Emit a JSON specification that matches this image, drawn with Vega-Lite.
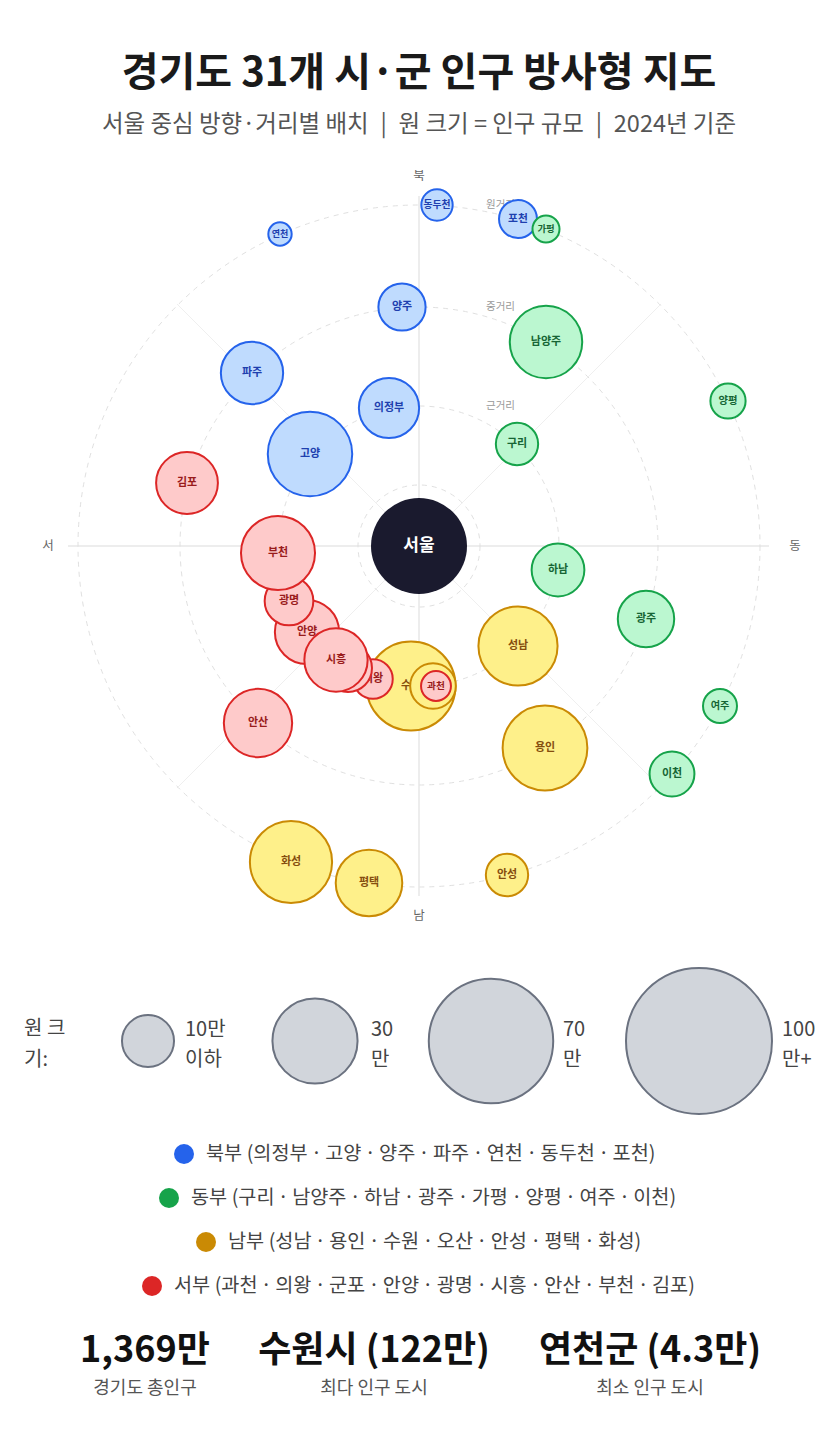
{
  "$schema": "https://vega.github.io/schema/vega-lite/v6.json",
  "background": "white",
  "padding": {"top": 53, "left": 0, "right": 0, "bottom": 0},
  "spacing": 0,
  "bounds": "flush",
  "config": {"view": {"stroke": null}, "font": "Noto Sans CJK KR", "text": {"font": "Noto Sans CJK KR"}},
  "title": {
    "text": "경기도 31개 시·군 인구 방사형 지도",
    "subtitle": "서울 중심 방향·거리별 배치\u2002|\u2002원 크기 = 인구 규모\u2002|\u20022024년 기준",
    "anchor": "middle", "font": "Noto Sans CJK KR", "fontSize": 40, "fontWeight": "bold", "color": "#1a1a1a",
    "subtitleFont": "Noto Sans CJK KR", "subtitleFontSize": 23.5, "subtitleColor": "#555555",
    "subtitlePadding": 19, "offset": 15
  },
  "resolve": {"scale": {"x": "independent", "y": "independent", "size": "independent", "color": "independent", "fill": "independent", "stroke": "independent"}},
  "datasets": {
    "cities": [
      {"name": "의정부", "region": "북부", "pop": 46, "x": -30, "y": 138, "z": 1},
      {"name": "고양", "region": "북부", "pop": 107, "x": -109, "y": 92, "z": 1},
      {"name": "양주", "region": "북부", "pop": 25, "x": -17, "y": 239, "z": 1},
      {"name": "파주", "region": "북부", "pop": 50, "x": -167, "y": 173, "z": 1},
      {"name": "연천", "region": "북부", "pop": 4.3, "x": -139, "y": 312, "z": 1},
      {"name": "동두천", "region": "북부", "pop": 9, "x": 18, "y": 341, "z": 1},
      {"name": "포천", "region": "북부", "pop": 14.5, "x": 99, "y": 327, "z": 1},
      {"name": "구리", "region": "동부", "pop": 19, "x": 98, "y": 102, "z": 1},
      {"name": "남양주", "region": "동부", "pop": 73, "x": 127, "y": 204, "z": 1},
      {"name": "하남", "region": "동부", "pop": 33, "x": 139, "y": -24, "z": 1},
      {"name": "광주", "region": "동부", "pop": 39, "x": 227, "y": -73, "z": 1},
      {"name": "가평", "region": "동부", "pop": 6.2, "x": 127, "y": 317, "z": 1},
      {"name": "양평", "region": "동부", "pop": 12, "x": 309, "y": 145, "z": 1},
      {"name": "여주", "region": "동부", "pop": 11, "x": 301, "y": -160, "z": 1},
      {"name": "이천", "region": "동부", "pop": 22, "x": 253, "y": -228, "z": 1},
      {"name": "성남", "region": "남부", "pop": 91, "x": 99, "y": -100, "z": 1},
      {"name": "용인", "region": "남부", "pop": 108, "x": 126, "y": -202, "z": 1},
      {"name": "수원", "region": "남부", "pop": 122, "x": -8, "y": -140, "z": 1},
      {"name": "오산", "region": "남부", "pop": 23, "x": 14, "y": -140, "z": 2},
      {"name": "안성", "region": "남부", "pop": 19, "x": 88, "y": -329, "z": 1},
      {"name": "평택", "region": "남부", "pop": 59, "x": -50, "y": -337, "z": 1},
      {"name": "화성", "region": "남부", "pop": 100, "x": -128, "y": -316, "z": 1},
      {"name": "과천", "region": "서부", "pop": 8, "x": 17, "y": -140, "z": 3},
      {"name": "의왕", "region": "서부", "pop": 16, "x": -46, "y": -133, "z": 2},
      {"name": "군포", "region": "서부", "pop": 26, "x": -71, "y": -122, "z": 3},
      {"name": "안양", "region": "서부", "pop": 54, "x": -112, "y": -86, "z": 2},
      {"name": "광명", "region": "서부", "pop": 27, "x": -130, "y": -55, "z": 3},
      {"name": "시흥", "region": "서부", "pop": 52, "x": -83, "y": -114, "z": 4},
      {"name": "안산", "region": "서부", "pop": 63, "x": -161, "y": -177, "z": 1},
      {"name": "부천", "region": "서부", "pop": 77, "x": -141, "y": -7, "z": 4},
      {"name": "김포", "region": "서부", "pop": 49, "x": -232, "y": 63, "z": 1}
    ],
    "ringdata": [
      {"dist": 61, "label": ""},
      {"dist": 140, "label": "근거리"},
      {"dist": 239, "label": "중거리"},
      {"dist": 341, "label": "원거리"}
    ],
    "spokes": [
      {"x": -351, "y": 0, "x2": 350, "y2": 0},
      {"x": 0, "y": 350, "x2": 0, "y2": -350},
      {"x": -242, "y": 242, "x2": 242, "y2": -242},
      {"x": 242, "y": 242, "x2": -242, "y2": -242}
    ],
    "dirs": [
      {"d": "북", "x": 0, "y": 370},
      {"d": "남", "x": 0, "y": -370},
      {"d": "서", "x": -371, "y": 0},
      {"d": "동", "x": 376, "y": 0}
    ],
    "seoul": [{"name": "서울", "x": 0, "y": 0}],
    "sizes": [
      {"v": 10, "label": "10만\n이하"},
      {"v": 30, "label": "30\n만"},
      {"v": 70, "label": "70\n만"},
      {"v": 100, "label": "100\n만+"}
    ],
    "regions": [
      {"i": 1, "region": "북부", "label": "북부 (의정부\u2006·\u2006고양\u2006·\u2006양주\u2006·\u2006파주\u2006·\u2006연천\u2006·\u2006동두천\u2006·\u2006포천)"},
      {"i": 2, "region": "동부", "label": "동부 (구리\u2006·\u2006남양주\u2006·\u2006하남\u2006·\u2006광주\u2006·\u2006가평\u2006·\u2006양평\u2006·\u2006여주\u2006·\u2006이천)"},
      {"i": 3, "region": "남부", "label": "남부 (성남\u2006·\u2006용인\u2006·\u2006수원\u2006·\u2006오산\u2006·\u2006안성\u2006·\u2006평택\u2006·\u2006화성)"},
      {"i": 4, "region": "서부", "label": "서부 (과천\u2006·\u2006의왕\u2006·\u2006군포\u2006·\u2006안양\u2006·\u2006광명\u2006·\u2006시흥\u2006·\u2006안산\u2006·\u2006부천\u2006·\u2006김포)"}
    ],
    "stats": [
      {"i": 1, "value": "1,369만", "label": "경기도 총인구"},
      {"i": 2, "value": "수원시 (122만)", "label": "최다 인구 도시"},
      {"i": 3, "value": "연천군 (4.3만)", "label": "최소 인구 도시"}
    ]
  },
  "vconcat": [
    {
      "width": 838,
      "height": 810,
      "resolve": {"scale": {"size": "independent"}},
      "layer": [
        {
          "data": {"name": "spokes"},
          "transform": [{"filter": "datum.x == 0 || datum.y == 0"}],
          "mark": {"type": "rule", "stroke": "#ededed", "strokeWidth": 2},
          "encoding": {
            "x": {"field": "x", "type": "quantitative", "scale": {"domain": [-419, 419], "nice": false, "zero": false}, "axis": null},
            "y": {"field": "y", "type": "quantitative", "scale": {"domain": [-415, 395], "nice": false, "zero": false}, "axis": null},
            "x2": {"field": "x2"}, "y2": {"field": "y2"}
          }
        },
        {
          "data": {"name": "spokes"},
          "transform": [{"filter": "datum.x != 0 && datum.y != 0"}],
          "mark": {"type": "rule", "stroke": "#efefef", "strokeWidth": 1},
          "encoding": {
            "x": {"field": "x", "type": "quantitative", "scale": {"domain": [-419, 419], "nice": false, "zero": false}, "axis": null},
            "y": {"field": "y", "type": "quantitative", "scale": {"domain": [-415, 395], "nice": false, "zero": false}, "axis": null},
            "x2": {"field": "x2"}, "y2": {"field": "y2"}
          }
        },
        {
          "data": {"name": "ringdata"},
          "mark": {"type": "point", "shape": "circle", "filled": false, "stroke": "#e0e0e0", "strokeWidth": 1, "strokeDash": [5, 5], "opacity": 1},
          "encoding": {
            "x": {"datum": 0, "type": "quantitative", "scale": {"domain": [-419, 419], "nice": false, "zero": false}, "axis": null},
            "y": {"datum": 0, "type": "quantitative", "scale": {"domain": [-415, 395], "nice": false, "zero": false}, "axis": null},
            "size": {"field": "dist", "type": "quantitative", "scale": {"type": "pow", "exponent": 2, "domain": [0, 400], "range": [0, 640000]}, "legend": null}
          }
        },
        {
          "data": {"name": "ringdata"},
          "transform": [{"filter": "datum.label != ''"}],
          "mark": {"type": "text", "align": "left", "baseline": "middle", "fontSize": 10.5, "fill": "#999999"},
          "encoding": {
            "x": {"datum": 67, "type": "quantitative", "scale": {"domain": [-419, 419], "nice": false, "zero": false}, "axis": null},
            "y": {"field": "dist", "type": "quantitative", "scale": {"domain": [-415, 395], "nice": false, "zero": false}, "axis": null},
            "text": {"field": "label"}
          }
        },
        {
          "data": {"name": "dirs"},
          "mark": {"type": "text", "align": "center", "baseline": "middle", "fontSize": 12.5, "fill": "#666666"},
          "encoding": {
            "x": {"field": "x", "type": "quantitative", "scale": {"domain": [-419, 419], "nice": false, "zero": false}, "axis": null},
            "y": {"field": "y", "type": "quantitative", "scale": {"domain": [-415, 395], "nice": false, "zero": false}, "axis": null},
            "text": {"field": "d"}
          }
        },
        {
          "data": {"name": "seoul"},
          "mark": {"type": "point", "shape": "circle", "filled": true, "fill": "#1a1a2e", "strokeWidth": 0, "opacity": 1, "size": 9216},
          "encoding": {
            "x": {"field": "x", "type": "quantitative", "scale": {"domain": [-419, 419], "nice": false, "zero": false}, "axis": null},
            "y": {"field": "y", "type": "quantitative", "scale": {"domain": [-415, 395], "nice": false, "zero": false}, "axis": null}
          }
        },
        {
          "data": {"name": "seoul"},
          "mark": {"type": "text", "align": "center", "baseline": "middle", "fontSize": 17, "fontWeight": "bold", "fill": "white"},
          "encoding": {
            "x": {"field": "x", "type": "quantitative", "scale": {"domain": [-419, 419], "nice": false, "zero": false}, "axis": null},
            "y": {"field": "y", "type": "quantitative", "scale": {"domain": [-415, 395], "nice": false, "zero": false}, "axis": null},
            "text": {"field": "name"}
          }
        },
        {
          "data": {"name": "cities"},
          "transform": [{"filter": "datum.z == 1"}],
          "mark": {"type": "point", "shape": "circle", "filled": true, "strokeWidth": 2, "opacity": 1},
          "encoding": {
            "x": {"field": "x", "type": "quantitative", "scale": {"domain": [-419, 419], "nice": false, "zero": false}, "axis": null},
            "y": {"field": "y", "type": "quantitative", "scale": {"domain": [-415, 395], "nice": false, "zero": false}, "axis": null},
            "size": {"field": "pop", "type": "quantitative", "scale": {"type": "pow", "exponent": 0.8, "domain": [0, 122], "range": [0, 7921], "zero": true}, "legend": null},
            "fill": {"field": "region", "type": "nominal", "scale": {"domain": ["북부", "동부", "남부", "서부"], "range": ["#bfdbfe", "#bbf7d0", "#fef08a", "#fecaca"]}, "legend": null},
            "stroke": {"field": "region", "type": "nominal", "scale": {"domain": ["북부", "동부", "남부", "서부"], "range": ["#2563eb", "#16a34a", "#ca8a04", "#dc2626"]}, "legend": null}
          }
        },
        {
          "data": {"name": "cities"},
          "transform": [{"filter": "datum.z == 1"}],
          "mark": {"type": "text", "align": "center", "baseline": "middle", "fontWeight": "bold"},
          "encoding": {
            "x": {"field": "x", "type": "quantitative", "scale": {"domain": [-419, 419], "nice": false, "zero": false}, "axis": null},
            "y": {"field": "y", "type": "quantitative", "scale": {"domain": [-415, 395], "nice": false, "zero": false}, "axis": null},
            "text": {"field": "name"},
            "size": {"field": "pop", "type": "quantitative", "scale": {"type": "linear", "domain": [4, 16], "range": [9, 11], "clamp": true}, "legend": null},
            "color": {"field": "region", "type": "nominal", "scale": {"domain": ["북부", "동부", "남부", "서부"], "range": ["#1e40af", "#166534", "#854d0e", "#991b1b"]}, "legend": null}
          }
        },
        {
          "data": {"name": "cities"},
          "transform": [{"filter": "datum.z == 2"}],
          "mark": {"type": "point", "shape": "circle", "filled": true, "strokeWidth": 2, "opacity": 1},
          "encoding": {
            "x": {"field": "x", "type": "quantitative", "scale": {"domain": [-419, 419], "nice": false, "zero": false}, "axis": null},
            "y": {"field": "y", "type": "quantitative", "scale": {"domain": [-415, 395], "nice": false, "zero": false}, "axis": null},
            "size": {"field": "pop", "type": "quantitative", "scale": {"type": "pow", "exponent": 0.8, "domain": [0, 122], "range": [0, 7921], "zero": true}, "legend": null},
            "fill": {"field": "region", "type": "nominal", "scale": {"domain": ["북부", "동부", "남부", "서부"], "range": ["#bfdbfe", "#bbf7d0", "#fef08a", "#fecaca"]}, "legend": null},
            "stroke": {"field": "region", "type": "nominal", "scale": {"domain": ["북부", "동부", "남부", "서부"], "range": ["#2563eb", "#16a34a", "#ca8a04", "#dc2626"]}, "legend": null}
          }
        },
        {
          "data": {"name": "cities"},
          "transform": [{"filter": "datum.z == 2"}],
          "mark": {"type": "text", "align": "center", "baseline": "middle", "fontWeight": "bold"},
          "encoding": {
            "x": {"field": "x", "type": "quantitative", "scale": {"domain": [-419, 419], "nice": false, "zero": false}, "axis": null},
            "y": {"field": "y", "type": "quantitative", "scale": {"domain": [-415, 395], "nice": false, "zero": false}, "axis": null},
            "text": {"field": "name"},
            "size": {"field": "pop", "type": "quantitative", "scale": {"type": "linear", "domain": [4, 16], "range": [9, 11], "clamp": true}, "legend": null},
            "color": {"field": "region", "type": "nominal", "scale": {"domain": ["북부", "동부", "남부", "서부"], "range": ["#1e40af", "#166534", "#854d0e", "#991b1b"]}, "legend": null}
          }
        },
        {
          "data": {"name": "cities"},
          "transform": [{"filter": "datum.z == 3"}],
          "mark": {"type": "point", "shape": "circle", "filled": true, "strokeWidth": 2, "opacity": 1},
          "encoding": {
            "x": {"field": "x", "type": "quantitative", "scale": {"domain": [-419, 419], "nice": false, "zero": false}, "axis": null},
            "y": {"field": "y", "type": "quantitative", "scale": {"domain": [-415, 395], "nice": false, "zero": false}, "axis": null},
            "size": {"field": "pop", "type": "quantitative", "scale": {"type": "pow", "exponent": 0.8, "domain": [0, 122], "range": [0, 7921], "zero": true}, "legend": null},
            "fill": {"field": "region", "type": "nominal", "scale": {"domain": ["북부", "동부", "남부", "서부"], "range": ["#bfdbfe", "#bbf7d0", "#fef08a", "#fecaca"]}, "legend": null},
            "stroke": {"field": "region", "type": "nominal", "scale": {"domain": ["북부", "동부", "남부", "서부"], "range": ["#2563eb", "#16a34a", "#ca8a04", "#dc2626"]}, "legend": null}
          }
        },
        {
          "data": {"name": "cities"},
          "transform": [{"filter": "datum.z == 3"}],
          "mark": {"type": "text", "align": "center", "baseline": "middle", "fontWeight": "bold"},
          "encoding": {
            "x": {"field": "x", "type": "quantitative", "scale": {"domain": [-419, 419], "nice": false, "zero": false}, "axis": null},
            "y": {"field": "y", "type": "quantitative", "scale": {"domain": [-415, 395], "nice": false, "zero": false}, "axis": null},
            "text": {"field": "name"},
            "size": {"field": "pop", "type": "quantitative", "scale": {"type": "linear", "domain": [4, 16], "range": [9, 11], "clamp": true}, "legend": null},
            "color": {"field": "region", "type": "nominal", "scale": {"domain": ["북부", "동부", "남부", "서부"], "range": ["#1e40af", "#166534", "#854d0e", "#991b1b"]}, "legend": null}
          }
        },
        {
          "data": {"name": "cities"},
          "transform": [{"filter": "datum.z == 4"}],
          "mark": {"type": "point", "shape": "circle", "filled": true, "strokeWidth": 2, "opacity": 1},
          "encoding": {
            "x": {"field": "x", "type": "quantitative", "scale": {"domain": [-419, 419], "nice": false, "zero": false}, "axis": null},
            "y": {"field": "y", "type": "quantitative", "scale": {"domain": [-415, 395], "nice": false, "zero": false}, "axis": null},
            "size": {"field": "pop", "type": "quantitative", "scale": {"type": "pow", "exponent": 0.8, "domain": [0, 122], "range": [0, 7921], "zero": true}, "legend": null},
            "fill": {"field": "region", "type": "nominal", "scale": {"domain": ["북부", "동부", "남부", "서부"], "range": ["#bfdbfe", "#bbf7d0", "#fef08a", "#fecaca"]}, "legend": null},
            "stroke": {"field": "region", "type": "nominal", "scale": {"domain": ["북부", "동부", "남부", "서부"], "range": ["#2563eb", "#16a34a", "#ca8a04", "#dc2626"]}, "legend": null}
          }
        },
        {
          "data": {"name": "cities"},
          "transform": [{"filter": "datum.z == 4"}],
          "mark": {"type": "text", "align": "center", "baseline": "middle", "fontWeight": "bold"},
          "encoding": {
            "x": {"field": "x", "type": "quantitative", "scale": {"domain": [-419, 419], "nice": false, "zero": false}, "axis": null},
            "y": {"field": "y", "type": "quantitative", "scale": {"domain": [-415, 395], "nice": false, "zero": false}, "axis": null},
            "text": {"field": "name"},
            "size": {"field": "pop", "type": "quantitative", "scale": {"type": "linear", "domain": [4, 16], "range": [9, 11], "clamp": true}, "legend": null},
            "color": {"field": "region", "type": "nominal", "scale": {"domain": ["북부", "동부", "남부", "서부"], "range": ["#1e40af", "#166534", "#854d0e", "#991b1b"]}, "legend": null}
          }
        }
      ]
    },
    {
      "width": 838,
      "height": 160,
      "data": {"name": "sizes"},
      "resolve": {"scale": {"x": "independent"}},
      "layer": [
        {
          "data": {"values": [{}]},
          "mark": {"type": "text", "text": ["원 크", "기:"], "align": "left", "baseline": "middle", "dy": -12, "fontSize": 20, "lineHeight": 31, "fill": "#444444"},
          "encoding": {
            "x": {"datum": 0, "type": "quantitative", "scale": {"domain": [0, 10, 30, 70, 100], "range": [24, 148, 315, 491, 699]}, "axis": null},
            "y": {"datum": 0, "type": "quantitative", "scale": {"domain": [-80, 80]}, "axis": null}
          }
        },
        {
          "mark": {"type": "point", "shape": "circle", "filled": true, "fill": "#d1d5db", "stroke": "#6b7280", "strokeWidth": 2, "opacity": 1},
          "encoding": {
            "x": {"field": "v", "type": "quantitative", "scale": {"domain": [0, 10, 30, 70, 100], "range": [24, 148, 315, 491, 699]}, "axis": null},
            "y": {"datum": 0, "type": "quantitative", "scale": {"domain": [-80, 80]}, "axis": null},
            "size": {"field": "v", "type": "quantitative", "scale": {"type": "pow", "exponent": 0.896, "domain": [0, 100], "range": [0, 21316]}, "legend": null}
          }
        },
        {
          "mark": {"type": "text", "align": "left", "baseline": "middle", "dy": -11, "fontSize": 20, "lineHeight": 30, "lineBreak": "\n", "fill": "#444444"},
          "encoding": {
            "x": {"field": "v", "type": "quantitative", "scale": {"domain": [10, 30, 70, 100], "range": [185, 371, 563, 782]}, "axis": null},
            "y": {"datum": 0, "type": "quantitative", "scale": {"domain": [-80, 80]}, "axis": null},
            "text": {"field": "label"}
          }
        }
      ]
    },
    {
      "width": 838,
      "height": 190,
      "data": {"name": "regions"},
      "layer": [
        {
          "mark": {"type": "point", "shape": "circle", "filled": true, "opacity": 1, "size": 400},
          "encoding": {
            "x": {"field": "i", "type": "quantitative", "scale": {"domain": [1, 2, 3, 4], "range": [184, 169, 206, 152]}, "axis": null},
            "y": {"field": "i", "type": "quantitative", "scale": {"domain": [1, 4], "range": [33, 165]}, "axis": null},
            "fill": {"field": "region", "type": "nominal", "scale": {"domain": ["북부", "동부", "남부", "서부"], "range": ["#2563eb", "#16a34a", "#ca8a04", "#dc2626"]}, "legend": null}
          }
        },
        {
          "mark": {"type": "text", "align": "left", "baseline": "middle", "dx": 22, "fontSize": 19.7, "fill": "#444444"},
          "encoding": {
            "x": {"field": "i", "type": "quantitative", "scale": {"domain": [1, 2, 3, 4], "range": [184, 169, 206, 152]}, "axis": null},
            "y": {"field": "i", "type": "quantitative", "scale": {"domain": [1, 4], "range": [33, 165]}, "axis": null},
            "text": {"field": "label"}
          }
        }
      ]
    },
    {
      "width": 838,
      "height": 126,
      "data": {"name": "stats"},
      "layer": [
        {
          "mark": {"type": "text", "align": "center", "baseline": "middle", "fontSize": 36, "fontWeight": "bold", "fill": "#111111"},
          "encoding": {
            "x": {"field": "i", "type": "quantitative", "scale": {"domain": [1, 2, 3], "range": [145, 374, 650]}, "axis": null},
            "y": {"datum": "value", "type": "nominal", "scale": {"type": "point", "domain": ["value", "label"], "range": [40, 78], "padding": 0}, "axis": null},
            "text": {"field": "value"}
          }
        },
        {
          "mark": {"type": "text", "align": "center", "baseline": "middle", "fontSize": 18, "fill": "#555555"},
          "encoding": {
            "x": {"field": "i", "type": "quantitative", "scale": {"domain": [1, 2, 3], "range": [145, 374, 650]}, "axis": null},
            "y": {"datum": "label", "type": "nominal", "scale": {"type": "point", "domain": ["value", "label"], "range": [40, 78], "padding": 0}, "axis": null},
            "text": {"field": "label"}
          }
        }
      ]
    }
  ]
}
